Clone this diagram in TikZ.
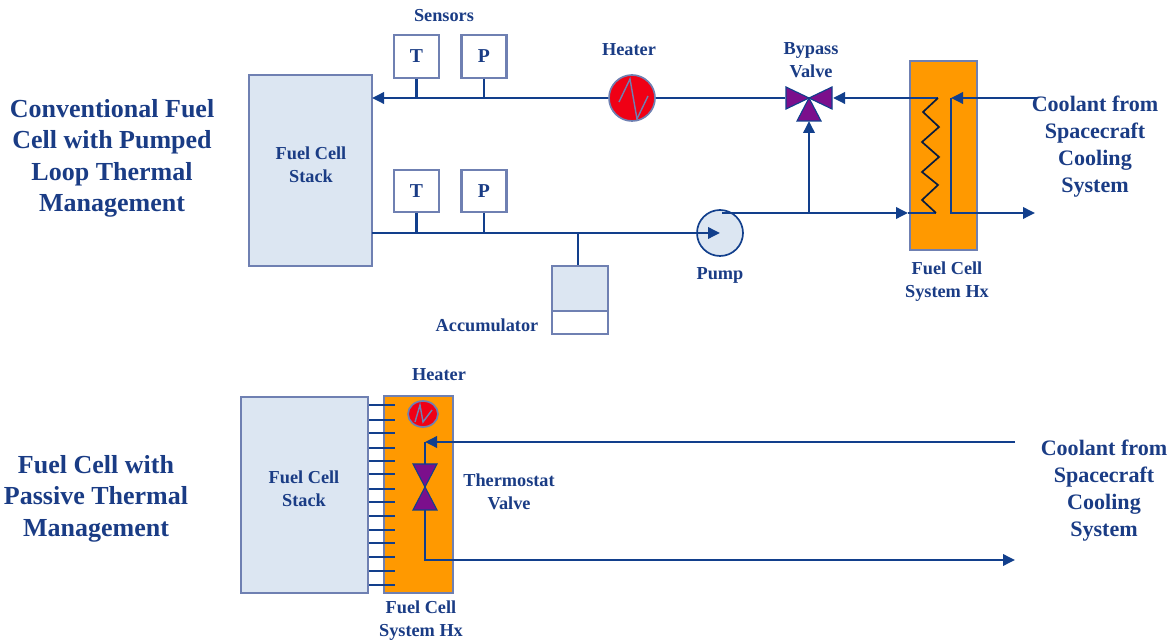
\documentclass[tikz,border=0pt]{standalone}
\usepackage{fontspec}
\setmainfont{Liberation Serif}
\usetikzlibrary{arrows.meta,positioning,calc,shapes.geometric}
\definecolor{ink}{HTML}{1A3C85}
\definecolor{line}{HTML}{123F8C}
\definecolor{edge}{HTML}{6F80B2}
\definecolor{soft}{HTML}{DCE6F2}
\definecolor{hxfill}{HTML}{FF9900}
\definecolor{heatfill}{HTML}{F00015}
\definecolor{valvefill}{HTML}{7B0F8C}
\tikzset{
  box/.style={draw=edge,line width=1.5pt,fill=soft,inner sep=0pt},
  hx/.style={box,fill=hxfill},
  sens/.style={box,fill=white,minimum width=11.25mm,minimum height=10.6mm,font=\bfseries\fontsize{14}{16}\selectfont,text=ink},
  heat/.style={circle,draw=edge,line width=1.2pt,fill=heatfill,inner sep=0pt,minimum size=11.5mm},
  plain/.style={align=center,font=\bfseries\fontsize{13}{16.2}\selectfont,text=ink,inner sep=0pt},
  cool/.style={align=center,font=\bfseries\fontsize{15.7}{19.2}\selectfont,text=ink,inner sep=0pt},
  head/.style={align=center,font=\bfseries\fontsize{18.5}{22.3}\selectfont,text=ink,inner sep=0pt},
  pipe/.style={draw=line,line width=2pt},
  ar/.style={pipe,-{Triangle[length=3mm,width=2.8mm]}},
  zz/.style={draw=edge,line width=1pt},
  coil/.style={draw=black!55!line,line width=1.2pt},
  valve/.style={draw=line,line width=.8pt,fill=valvefill},
}
\begin{document}
\begin{tikzpicture}[x=.25mm,y=-.25mm]
  \useasboundingbox (0,0) rectangle (1170,640);
  % headings
  \node[head] (hd1) at (112,158.5) {Conventional Fuel\\Cell with Pumped\\Loop Thermal\\Management};
  \node[head] (hd2) at (96,498.5) {Fuel Cell with\\Passive Thermal\\Management};
  % pumped loop
  \node[box,minimum width=30.75mm,minimum height=47.75mm] (stack) at (310.5,170.5) {};
  \node[plain] (stacktxt) at (311,165) {Fuel Cell\\Stack};
  \node[hx,minimum width=16.75mm,minimum height=47.25mm] (hxa) at (943.5,155.5) {};
  \node[plain] (hxatxt) at (947,282) {Fuel Cell\\System Hx};
  \node[sens] (t1) at (416.5,56.5) {T};
  \node[sens] (p1) at (484,56.5) {P};
  \node[sens] (t2) at (416.5,191) {T};
  \node[sens] (p2) at (484,191) {P};
  \node[plain] (senstxt) at (444,16) {Sensors};
  \node[heat] (htr) at (632,98) {};
  \node[plain] (htrtxt) at (629,50) {Heater};
  \draw[zz] ([shift={(-13,4)}]htr.center) -- ++(11,-23) -- ++(7,40) -- ++(11,-23);
  \node[circle,draw=line,line width=1.2pt,fill=soft,inner sep=0pt,minimum size=11.5mm] (pump) at (720,233) {};
  \node[plain] (pumptxt) at (720,275) {Pump};
  \node[box,minimum width=14mm,minimum height=17mm] (acc) at (580,300) {};
  \node[box,fill=white,minimum width=14mm,minimum height=5.75mm] (accb) at (580,322.5) {};
  \node[plain] (acctxt) at (487,325) {Accumulator};
  \node[plain] (bytxt) at (811,60.5) {Bypass\\Valve};
  \node[cool] (coola) at (1095,147) {Coolant from\\Spacecraft\\Cooling\\System};
  % bypass valve
  \coordinate (bv) at (809,98);
  \coordinate (bvl) at (785,98);
  \coordinate (bvr) at (833,98);
  \coordinate (bvb) at (809,121);
  % pipes
  \coordinate (top) at (372,98);
  \draw[ar] (htr.west) -- (top);
  \draw[pipe] (bvl) -- (htr.east);
  \foreach \s in {t1,p1} \draw[pipe] (\s.south) -- (\s.south |- top);
  \coordinate (low) at (372,233);
  \draw[ar] (low) -- (pump.center);
  \foreach \s in {t2,p2} \draw[pipe] (\s.south) -- (\s.south |- low);
  \coordinate (st) at (578,233);
  \draw[pipe] (st) -- (st |- acc.north);
  \coordinate (pt) at (722,213);
  \coordinate (hin) at (908,213);
  \coordinate (br) at (809,213);
  \draw[ar] (pt) -- (hin);
  \draw[ar] (br) -- (bvb);
  \coordinate (coilt) at (938,98);
  \coordinate (coilb) at (936,213);
  \draw[ar] (coilt) -- (bvr);
  \draw[pipe] (hin) -- (coilb);
  \draw[coil] (coilt) -- (923,112) -- (939,127) -- (922,142) -- (939,157) -- (922,172) -- (938,185) -- (922,200) -- (coilb);
  \coordinate (ca) at (1037,98);
  \coordinate (cb) at (951,98);
  \coordinate (cc) at (951,213);
  \coordinate (cd) at (1035,213);
  \draw[ar] (ca) -- (cb);
  \draw[ar] (cb) -- (cc) -- (cd);
  \draw[valve] (bv) -- (786,87) -- (786,109) -- cycle;
  \draw[valve] (bv) -- (832,87) -- (832,109) -- cycle;
  \draw[valve] (bv) -- (797,121) -- (821,121) -- cycle;
  % passive loop
  \node[box,minimum width=31.75mm,minimum height=49mm] (stackb) at (304.5,495) {};
  \node[plain] (stackbtxt) at (304,489) {Fuel Cell\\Stack};
  \node[hx,minimum width=17.25mm,minimum height=49.25mm] (hxb) at (418.5,494.5) {};
  \node[plain] (hxbtxt) at (421,621) {Fuel Cell\\System Hx};
  \foreach \y in {405,420,433,448,461,474,489,502,516,530,543,557,571,585}
    \draw[pipe] (stackb.east |- 0,\y) -- (395,\y);
  \node[heat,ellipse,minimum width=7.5mm,minimum height=6.5mm] (htrb) at (423,414) {};
  \draw[zz] (415,422) -- (420,405) -- (423,422) -- (432,410);
  \node[plain] (htrbtxt) at (439,375) {Heater};
  \node[plain] (thtxt) at (509,492) {Thermostat\\Valve};
  \node[cool] (coolb) at (1104,491) {Coolant from\\Spacecraft\\Cooling\\System};
  \coordinate (tv) at (425,487);
  \coordinate (tvt) at (425,464);
  \coordinate (tvb) at (425,510);
  \coordinate (cbi) at (1015,442);
  \coordinate (cbo) at (1015,560);
  \coordinate (cbk) at (425,442);
  \coordinate (cbl) at (425,560);
  \draw[ar] (cbi) -- (cbk);
  \draw[pipe] (cbk) -- (tvt);
  \draw[ar] (tvb) -- (cbl) -- (cbo);
  \draw[valve] (tv) -- (413,464) -- (437,464) -- cycle;
  \draw[valve] (tv) -- (413,510) -- (437,510) -- cycle;
\end{tikzpicture}
\end{document}
